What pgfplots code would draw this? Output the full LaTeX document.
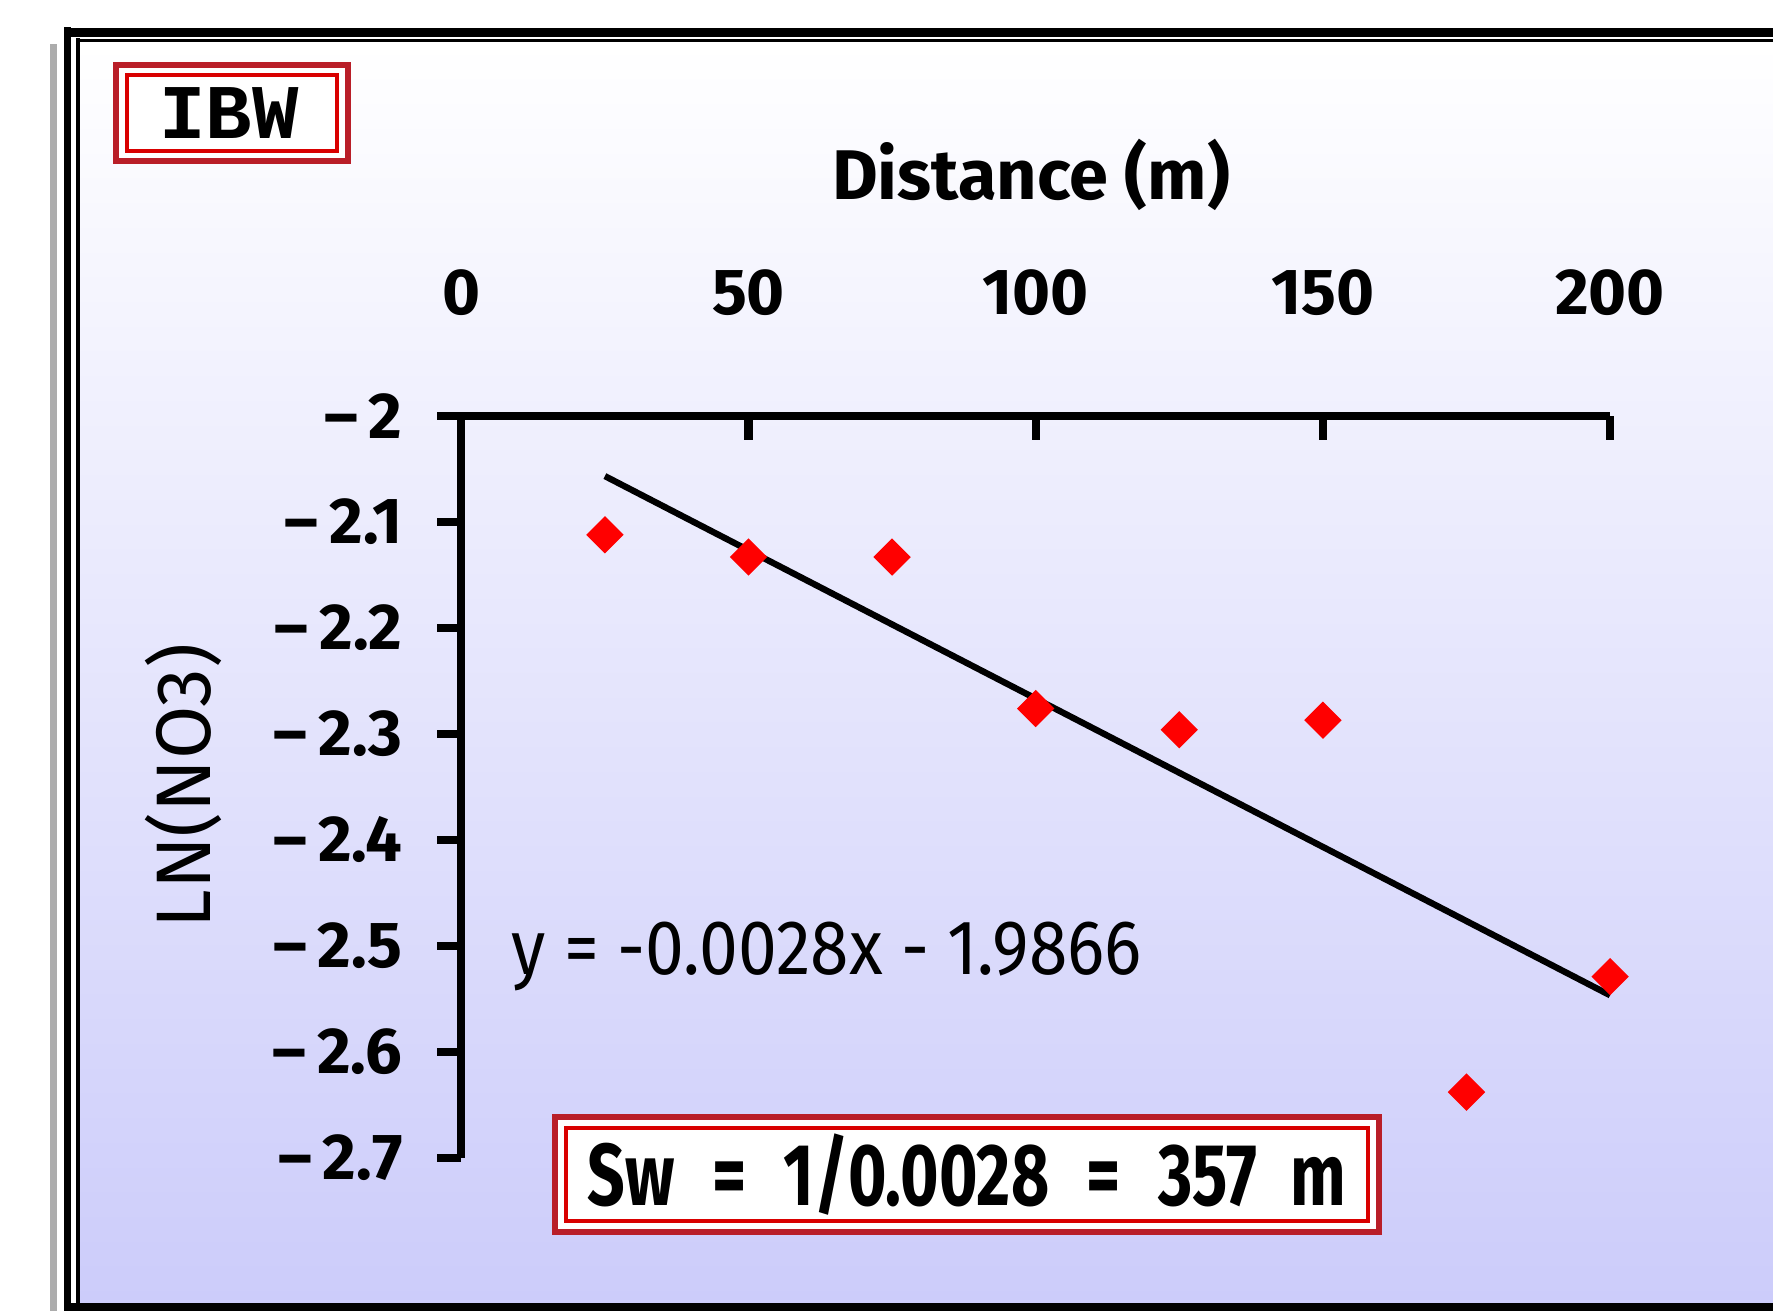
\documentclass[border=0pt]{standalone}
\usepackage{fontspec}
\setmainfont{Fira Sans}
\newfontfamily\monof{Liberation Mono}
\usepackage{pgfplots}
\pgfplotsset{compat=1.18}
\definecolor{lav}{RGB}{204,204,250}
\definecolor{dred}{RGB}{185,30,40}
\newcommand\fs[1]{\fontsize{#1}{#1}\selectfont}
\newcommand\mn{\textendash\kern1.1mm}
\begin{document}
\begin{tikzpicture}
\useasboundingbox (0,0) rectangle (177.3mm,-131.1mm);
\begin{scope}[x=0.1mm,y=-0.1mm]
  \shade[top color=white, bottom color=lav] (80,42) rectangle (1773,1303);
  \fill[gray!65] (50,44) rectangle (57,1311);
  \fill[black] (64,27) rectangle (71,1311);
  \fill[black] (64,28) rectangle (1773,37);
  \fill[black] (76,38) rectangle (80,1303);
  \fill[black] (76,39) rectangle (1773,42);
  \fill[black] (64,1303) rectangle (1773,1311);
  % IBW box
  \fill[white] (116,65) rectangle (348,161);
  \draw[dred, line width=0.6mm] (116,65) rectangle (348,161);
  \draw[red!85!black, line width=0.35mm] (127,75) rectangle (337,151);
  \node[font=\monof\fs{22}\bfseries] at (229,113) {IBW};
  % Sw box
  \fill[white] (555,1117) rectangle (1379,1232);
  \draw[dred, line width=0.6mm] (555,1117) rectangle (1379,1232);
  \draw[red!85!black, line width=0.35mm] (566,1128) rectangle (1368,1221);
\end{scope}
\begin{axis}[
  at={(46.13mm,-115.78mm)}, anchor=south west,
  scale only axis, width=114.88mm, height=74.17mm,
  xmin=0, xmax=200, ymin=-2.7, ymax=-2,
  axis x line=top, axis y line=left,
  axis line style={-, line width=2.3pt, black},
  xtick={0,50,100,150,200},
  ytick={-2,-2.1,-2.2,-2.3,-2.4,-2.5,-2.6,-2.7},
  yticklabels={\mn2,\mn2.1,\mn2.2,\mn2.3,\mn2.4,\mn2.5,\mn2.6,\mn2.7},
  xtick align=inside, ytick align=outside,
  major tick length=2.4mm,
  every tick/.style={black, line width=2.3pt},
  tick label style={font=\fs{18.5}\bfseries},
  /pgf/number format/assume math mode=true,
  xticklabel style={anchor=south, inner sep=0pt, yshift=10mm},
  yticklabel style={anchor=east, inner sep=0pt, xshift=-3.4mm},
  clip=false,
]
\addplot[only marks, mark=square*, mark size=1.25mm, color=red,
  mark options={rotate=45, fill=red, draw=red}]
  coordinates {(25,-2.112) (50,-2.133) (75,-2.133) (100,-2.276)
               (125,-2.296) (150,-2.287) (175,-2.638) (200,-2.529)};
\addplot[black, line width=1.8pt] coordinates {(25,-2.0566) (200,-2.5466)};
\end{axis}
\begin{scope}[x=0.1mm,y=-0.1mm]
  \node[font=\fs{20}\bfseries] at (1031,175) {Distance (m)};
  \node[rotate=90, font=\fs{22}] at (183,786) {LN(NO3)};
  \node[anchor=west, font=\fs{22}, inner sep=0pt, xscale=0.9] at (511,956) {y = -0.0028x - 1.9866};
  \node[font=\fs{25}\bfseries, xscale=0.75] at (967,1175)
    {Sw\hspace{5mm}=\hspace{5mm}1/0.0028\hspace{5mm}=\hspace{5mm}357\hspace{4.5mm}m};
\end{scope}
\end{tikzpicture}
\end{document}
